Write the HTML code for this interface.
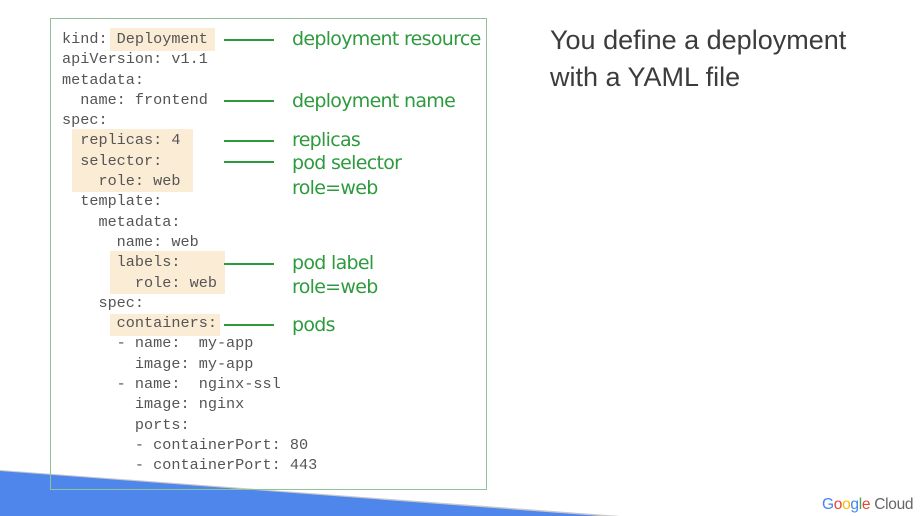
<!DOCTYPE html>
<html><head><meta charset="utf-8"><style>
html,body{margin:0;padding:0;width:922px;height:516px;overflow:hidden;background:#fff;position:relative}
.box{position:absolute;left:50px;top:18px;width:437px;height:472px;border:1.5px solid #8fc29a;box-sizing:border-box}
.hl{position:absolute;background:#fbecd6}
pre{position:absolute;left:62px;top:29px;margin:0;font:15.2px/20.3px "Liberation Mono",monospace;color:#555}
.ln{position:absolute;height:2px;background:#2e9a3e;width:50px;left:224px}
.lb{position:absolute;left:292px;font:19px/20px "DejaVu Sans",sans-serif;color:#2e9a3e;letter-spacing:-0.7px}
.t{position:absolute;left:550px;font:27px/36px "Liberation Sans",sans-serif;color:#3c3c3c}
</style></head><body>
<svg style="position:absolute;left:0;top:0" width="922" height="516">
<polygon points="0,470 620,516 0,516" fill="#c8c8c8"/>
<polygon points="0,471 600,516 0,516" fill="#4f86ec"/>
<text x="822" y="509" font-family="Liberation Sans,sans-serif" font-size="15.5" letter-spacing="-0.3"><tspan fill="#4285f4">G</tspan><tspan fill="#ea4335">o</tspan><tspan fill="#fbbc05">o</tspan><tspan fill="#4285f4">g</tspan><tspan fill="#34a853">l</tspan><tspan fill="#ea4335">e</tspan><tspan fill="#666"> Cloud</tspan></text>
</svg>
<div class="box"></div>
<div class="hl" style="left:110px;top:28px;width:105px;height:23px"></div>
<div class="hl" style="left:72px;top:129px;width:121px;height:63px"></div>
<div class="hl" style="left:110px;top:251px;width:115px;height:43px"></div>
<div class="hl" style="left:110px;top:314px;width:110px;height:22px"></div>
<pre>kind: Deployment
apiVersion: v1.1
metadata:
  name: frontend
spec:
  replicas: 4
  selector:
    role: web
  template:
    metadata:
      name: web
      labels:
        role: web
    spec:
      containers:
      - name:  my-app
        image: my-app
      - name:  nginx-ssl
        image: nginx
        ports:
        - containerPort: 80
        - containerPort: 443</pre>
<div class="ln" style="top:39px"></div>
<div class="ln" style="top:100px"></div>
<div class="ln" style="top:140px"></div>
<div class="ln" style="top:161px"></div>
<div class="ln" style="top:263px"></div>
<div class="ln" style="top:324px"></div>
<div class="lb" style="top:29px">deployment resource</div>
<div class="lb" style="top:91px">deployment name</div>
<div class="lb" style="top:130px">replicas</div>
<div class="lb" style="top:153px">pod selector</div>
<div class="lb" style="top:178px">role=web</div>
<div class="lb" style="top:253px">pod label</div>
<div class="lb" style="top:277px">role=web</div>
<div class="lb" style="top:315px">pods</div>
<div class="t" style="top:22px">You define a deployment</div>
<div class="t" style="top:59px">with a YAML file</div>
</body></html>
